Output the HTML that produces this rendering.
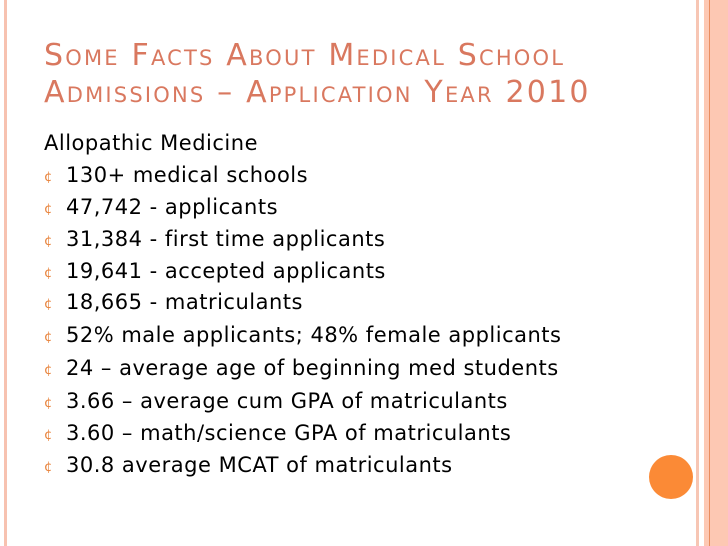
<!DOCTYPE html>
<html><head><meta charset="utf-8"><style>
html,body{margin:0;padding:0;width:728px;height:546px;overflow:hidden;background:#fff;position:relative;font-family:"DejaVu Sans","Liberation Sans",sans-serif}
.abs{position:absolute}
.title{left:44px;color:#d9785f;font-size:30px;font-variant:small-caps;letter-spacing:2.2px;white-space:nowrap;line-height:1}
.line{left:44px;font-size:21px;color:#000;white-space:nowrap;line-height:1;letter-spacing:0.5px}
.b{position:absolute;left:0;top:6px;font-size:13px;color:#e8823a;letter-spacing:0}
.t{position:absolute;left:22px;top:0}
</style></head><body>
<div class="abs" style="left:4px;top:0;width:3px;height:546px;background:#f7c2b0"></div>
<div class="abs" style="left:696px;top:0;width:3px;height:546px;background:#f7c6b4"></div>
<div class="abs" style="left:704px;top:0;width:24px;height:546px;background:#fdc8b3"></div>
<div class="abs" style="left:709px;top:0;width:1px;height:546px;background:#e98d5f"></div>
<div class="abs" style="left:649px;top:455px;width:44px;height:44px;border-radius:50%;background:#fb8a36"></div>

<div class="abs title" style="top:41px">Some Facts About Medical School</div>
<div class="abs title" style="top:78px">Admissions – Application Year 2010</div>

<div class="abs line" style="top:133px">Allopathic Medicine</div>
<div class="abs line" style="top:165px"><span class="b">¢</span><span class="t">130+ medical schools</span></div>
<div class="abs line" style="top:197px"><span class="b">¢</span><span class="t">47,742 - applicants</span></div>
<div class="abs line" style="top:229px"><span class="b">¢</span><span class="t">31,384 - first time applicants</span></div>
<div class="abs line" style="top:261px"><span class="b">¢</span><span class="t">19,641 - accepted applicants</span></div>
<div class="abs line" style="top:292px"><span class="b">¢</span><span class="t">18,665 - matriculants</span></div>
<div class="abs line" style="top:325px"><span class="b">¢</span><span class="t">52% male applicants; 48% female applicants</span></div>
<div class="abs line" style="top:358px"><span class="b">¢</span><span class="t">24 – average age of beginning med students</span></div>
<div class="abs line" style="top:391px"><span class="b">¢</span><span class="t">3.66 – average cum GPA of matriculants</span></div>
<div class="abs line" style="top:423px"><span class="b">¢</span><span class="t">3.60 – math/science GPA of matriculants</span></div>
<div class="abs line" style="top:455px"><span class="b">¢</span><span class="t">30.8 average MCAT of matriculants</span></div>
</body></html>
